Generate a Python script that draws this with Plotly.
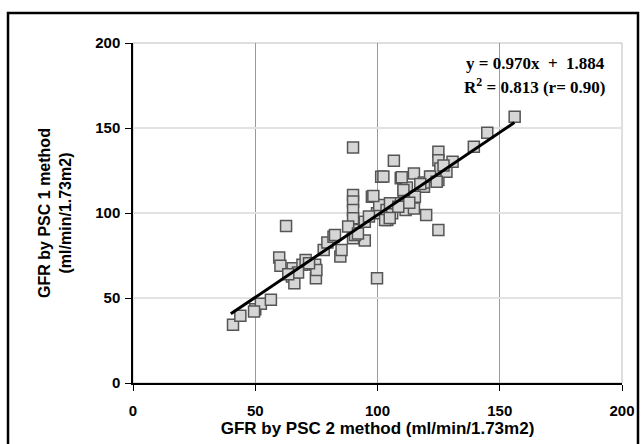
import plotly.graph_objects as go

psc2 = [40.9, 43.9, 50.0, 52.3, 49.5, 56.4, 62.6, 59.8, 60.3, 65.3, 65.0, 66.0, 69.3, 70.6,
        74.5, 74.8, 75.0, 78.0, 79.5, 82.0, 84.8, 85.3, 90.0, 90.0, 90.0, 90.0, 90.0, 90.0,
        90.0, 94.8, 94.8, 97.7, 99.8, 101.5, 99.8, 100.7, 104.0, 103.7, 106.7, 106.0, 108.2,
        109.5, 110.7, 111.5, 114.9, 114.9, 114.9, 119.0, 119.9, 122.4, 124.9, 124.9, 124.9,
        124.9, 125.7, 128.2, 130.7, 139.4, 144.9, 156.1, 112.0, 119.0, 102.4, 109.9, 98.3,
        105.1, 108.5, 110.6, 115.3, 82.6, 90.8, 103.1, 105.0, 121.5, 124.2, 72.0, 67.5, 88.0,
        96.5, 113.0, 117.5, 127.0, 63.5, 92.0]
psc1 = [34.2, 39.5, 43.4, 46.6, 42.0, 48.9, 92.4, 73.8, 68.9, 67.5, 62.6, 58.7, 69.5, 72.4,
        69.5, 61.6, 66.5, 78.3, 82.6, 86.1, 74.4, 78.3, 138.5, 110.6, 106.7, 101.8, 96.9, 90.0,
        85.1, 83.8, 94.9, 109.6, 61.6, 121.3, 99.8, 104.7, 95.9, 101.8, 130.7, 99.8, 105.7,
        120.4, 112.5, 101.8, 123.3, 108.6, 102.7, 115.5, 98.8, 121.3, 136.0, 131.1, 119.4,
        90.0, 126.2, 124.3, 130.1, 138.9, 147.2, 156.6, 115.0, 118.0, 121.4, 121.0, 110.0,
        105.7, 103.7, 113.5, 109.6, 87.1, 87.1, 95.9, 97.0, 121.4, 118.4, 70.5, 65.0, 92.0,
        98.0, 106.0, 117.0, 128.0, 64.0, 88.0]

slope, intercept = 0.970, 1.884
fit_x = [40.0, 156.0]
fit_y = [slope * v + intercept for v in fit_x]

x_ticks = [0, 50, 100, 150, 200]
y_ticks = [0, 50, 100, 150, 200]

fig = go.Figure()
fig.add_trace(go.Scatter(
    x=psc2, y=psc1, mode="markers",
    marker=dict(symbol="square", size=11, color="#d6d6d6",
                line=dict(color="#555555", width=1.5)),
    showlegend=False, hoverinfo="skip"))
fig.add_trace(go.Scatter(
    x=fit_x, y=fit_y, mode="lines",
    line=dict(color="black", width=3), showlegend=False, hoverinfo="skip"))

tickfont = dict(family="Liberation Sans, Arial", size=15, color="black", weight="bold")

fig.update_xaxes(
    range=[0, 200], tickvals=x_ticks, showgrid=True, gridcolor="#9a9a9a", gridwidth=1,
    showline=True, linecolor="black", linewidth=1.5, ticks="outside", ticklen=6,
    tickcolor="black", tickfont=tickfont, zeroline=False, mirror=False,
    ticklabelstandoff=7, automargin=False,
    title=dict(text="<b>GFR by PSC 2 method (ml/min/1.73m2)</b>",
               font=dict(family="Liberation Sans, Arial", size=17, color="black"), standoff=3))
fig.update_yaxes(
    range=[0, 200], tickvals=y_ticks, showgrid=True, gridcolor="#e2e2e2", gridwidth=1.5,
    showline=True, linecolor="black", linewidth=1.5, ticks="outside", ticklen=6,
    tickcolor="black", tickfont=tickfont, zeroline=False, ticklabelstandoff=2,
    automargin=False,
    title=dict(text="<b>GFR by PSC 1 method<br>(ml/min/1.73m2)</b>",
               font=dict(family="Liberation Sans, Arial", size=16, color="black"), standoff=20))

fig.update_layout(
    width=641, height=444,
    margin=dict(l=133, r=19, t=43, b=61),
    paper_bgcolor="white", plot_bgcolor="white",
    shapes=[
        dict(type="rect", xref="paper", yref="paper", x0=0, x1=1, y0=0, y1=1,
             line=dict(color="#bdbdbd", width=1), layer="below"),
        dict(type="rect", xref="paper", yref="paper", x0=-0.2556, x1=1.0327, y0=-0.3, y1=1.088,
             line=dict(color="black", width=2.5)),
    ],
    annotations=[
        dict(x=0.97, y=0.94, xref="paper", yref="paper", xanchor="right", yanchor="middle",
             text="<b>y = 0.970x  +  1.884</b>", showarrow=False,
             font=dict(family="Liberation Serif, Times New Roman", size=17, color="black")),
        dict(x=0.97, y=0.875, xref="paper", yref="paper", xanchor="right", yanchor="middle",
             text="<b>R<sup>2</sup> = 0.813 (r= 0.90)</b>", showarrow=False,
             font=dict(family="Liberation Serif, Times New Roman", size=17, color="black")),
    ],
)

fig.write_html("out.html")
